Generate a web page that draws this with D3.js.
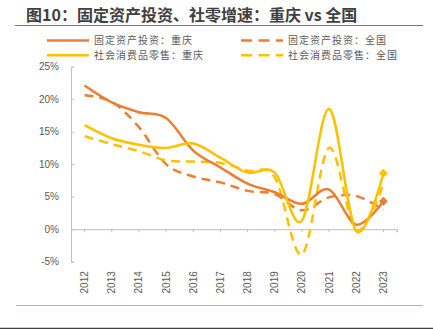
<!DOCTYPE html>
<html lang="zh">
<head>
    <meta charset="UTF-8">
    <title>图10：固定资产投资、社零增速：重庆 vs 全国</title>
    <script src="https://d3js.org/d3.v7.min.js"></script>
    <style>
        body { margin: 0; background: #fff; }
        svg { display: block; font-family: "Noto Sans CJK SC", "Noto Sans", sans-serif; }
        .axis text { fill: #595959; font-size: 10px; }
        .legend text { fill: #595959; font-size: 10px; letter-spacing: 1px; }
    </style>
</head>
<body>
    <svg width="433" height="329"></svg>

    <script>
        // data
        var years = ["2012", "2013", "2014", "2015", "2016", "2017", "2018", "2019", "2020", "2021", "2022", "2023"];
        var faiCq = [22.1, 19.5, 18.0, 17.1, 12.1, 9.5, 7.0, 5.7, 3.9, 6.1, 0.7, 4.3];
        var faiCn = [20.6, 19.6, 15.7, 10.0, 8.1, 7.2, 5.9, 5.4, 2.9, 4.9, 5.1, 3.0];
        var retailCq = [16.0, 14.0, 13.0, 12.5, 13.2, 11.0, 8.7, 8.7, 1.3, 18.5, -0.3, 8.6];
        var retailCn = [14.3, 13.1, 12.0, 10.6, 10.4, 10.2, 9.0, 8.0, -3.9, 12.5, -0.2, 7.0];
        var yTicks = [-5, 0, 5, 10, 15, 20, 25];

        var series = [
            {name: "固定资产投资：重庆", values: faiCq, color: "#ED7D31", dash: null, marker: true},
            {name: "固定资产投资：全国", values: faiCn, color: "#ED7D31", dash: "9,6", marker: false},
            {name: "社会消费品零售：重庆", values: retailCq, color: "#FFC000", dash: null, marker: true},
            {name: "社会消费品零售：全国", values: retailCn, color: "#FFC000", dash: "9,6", marker: false}
        ];

        var svg = d3.select("svg");

        // title
        svg.append("text")
            .attr("x", 26).attr("y", 21)
            .attr("font-size", 16).attr("font-weight", "bold")
            .attr("fill", "#404040")
            .text("图10：固定资产投资、社零增速：重庆 vs 全国");

        svg.append("line")
            .attr("x1", 15).attr("x2", 423).attr("y1", 25.5).attr("y2", 25.5)
            .attr("stroke", "#C55A4E").attr("stroke-width", 1.2);

        svg.append("line")
            .attr("x1", 16).attr("x2", 423).attr("y1", 305.5).attr("y2", 305.5)
            .attr("stroke", "#EC9A9A").attr("stroke-width", 1);

        svg.append("line")
            .attr("x1", 0).attr("x2", 433).attr("y1", 328.5).attr("y2", 328.5)
            .attr("stroke", "#404040").attr("stroke-width", 1.5);

        // scales
        var x = d3.scaleBand().domain(years).range([71, 397]);
        var y = d3.scaleLinear().domain([-5, 25]).range([261.7, 66.7]);
        var cx = function(d, i) { return x(years[i]) + x.bandwidth() / 2; };

        // y axis
        var yAxis = svg.append("g").attr("class", "axis")
            .attr("transform", "translate(71,0)")
            .call(d3.axisRight(y).tickValues(yTicks).tickSize(3).tickFormat(function(d) { return d + "%"; }));
        yAxis.select(".domain").attr("stroke", "#BFBFBF");
        yAxis.selectAll(".tick line").attr("stroke", "#BFBFBF");
        yAxis.selectAll(".tick text").attr("x", -12).attr("text-anchor", "end");

        // x axis at 0
        var xAxis = svg.append("g").attr("class", "axis")
            .attr("transform", "translate(0," + y(0) + ")")
            .call(d3.axisBottom(x).tickSizeOuter(0).tickSize(3));
        xAxis.select(".domain").attr("stroke", "#BFBFBF");
        xAxis.selectAll(".tick line").attr("stroke", "#BFBFBF");
        xAxis.selectAll(".tick text")
            .attr("transform", "rotate(-90)")
            .attr("text-anchor", "end")
            .attr("x", -42).attr("y", 0).attr("dy", "0.35em");
        xAxis.append("line")
            .attr("x1", 397).attr("x2", 397).attr("y1", 0).attr("y2", 3)
            .attr("stroke", "#BFBFBF");

        // lines
        var line = d3.line()
            .x(function(d, i) { return cx(d, i); })
            .y(function(d) { return y(d); })
            .curve(d3.curveCardinal.tension(0));

        // draw order: national first, then Chongqing
        var order = [series[1], series[3], series[0], series[2]];
        svg.selectAll("path.series")
            .data(order)
            .enter().append("path")
            .attr("class", "series")
            .attr("d", function(s) { return line(s.values); })
            .attr("fill", "none")
            .attr("stroke", function(s) { return s.color; })
            .attr("stroke-width", 2.5)
            .attr("stroke-dasharray", function(s) { return s.dash; });

        // last-point diamonds
        var last = years.length - 1;
        svg.selectAll("path.marker")
            .data(series.filter(function(s) { return s.marker; }))
            .enter().append("path")
            .attr("class", "marker")
            .attr("d", d3.symbol().type(d3.symbolDiamond2).size(50))
            .attr("transform", function(s) {
                return "translate(" + cx(null, last) + "," + y(s.values[last]) + ")";
            })
            .attr("fill", function(s) { return s.color; });

        // legend
        var legendPos = [[47, 40.5], [241, 40.5], [47, 55.2], [241, 55.2]];
        var legend = svg.append("g").attr("class", "legend");
        var item = legend.selectAll("g")
            .data(series)
            .enter().append("g")
            .attr("transform", function(d, i) { return "translate(" + legendPos[i][0] + "," + legendPos[i][1] + ")"; });
        item.append("line")
            .attr("x1", 0).attr("x2", 42)
            .attr("stroke", function(d) { return d.color; })
            .attr("stroke-width", 2.5)
            .attr("stroke-dasharray", function(d) { return d.dash ? "11,6.5" : null; });
        item.append("text")
            .attr("x", 47).attr("dy", "0.35em")
            .text(function(d) { return d.name; });
    </script>
</body>
</html>
